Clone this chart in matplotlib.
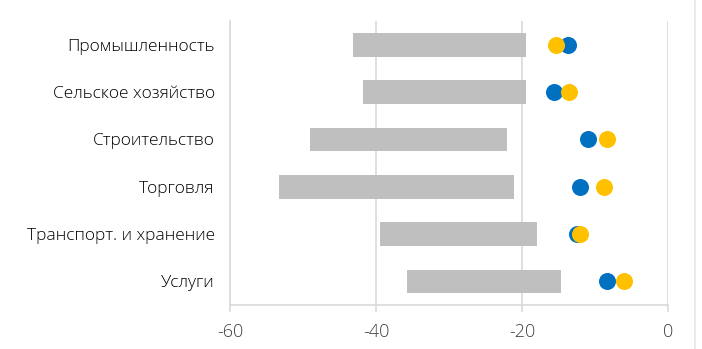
import matplotlib
matplotlib.use("Agg")
import matplotlib.pyplot as plt
from matplotlib.lines import Line2D

categories = ["Промышленность", "Сельское хозяйство", "Строительство",
              "Торговля", "Транспорт. и хранение", "Услуги"]
range_low = [-43.2, -41.8, -49.0, -53.3, -39.4, -35.8]
range_high = [-19.5, -19.5, -22.0, -21.1, -17.9, -14.7]
blue_vals = [-13.7, -15.6, -11.0, -12.0, -12.5, -8.3]
yellow_vals = [-15.4, -13.5, -8.4, -8.8, -12.1, -6.0]
x_ticks = [-60, -40, -20, 0]

GRAY = "#BFBFBF"
GRID = "#D9D9D9"
BLUE = "#0070C0"
YELLOW = "#FFC000"

plt.rcParams["font.family"] = ["Open Sans", "DejaVu Sans"]
plt.rcParams["font.weight"] = 300

fig = plt.figure(figsize=(7.02, 3.49), dpi=100)
ax = fig.add_axes([230 / 702, 1 - 305 / 349, (668 - 230) / 702, (305 - 21) / 349])

ypos = list(range(len(categories)))
widths = [h - l for l, h in zip(range_low, range_high)]
ax.barh(ypos, widths, left=range_low, height=0.5, color=GRAY, zorder=2)
ax.scatter(blue_vals, ypos, s=150, color=BLUE, zorder=3, linewidths=0)
ax.scatter(yellow_vals, ypos, s=150, color=YELLOW, zorder=4, linewidths=0)

ax.set_xlim(-60, 0)
ax.set_ylim(len(categories) - 0.5, -0.5)
ax.set_xticks(x_ticks)
ax.set_xticklabels([str(t) for t in x_ticks])
ax.set_yticks(ypos)
ax.set_yticklabels(categories)

ax.grid(axis="x", color=GRID, linewidth=1.2, zorder=0)
for side in ["top", "right"]:
    ax.spines[side].set_visible(False)
for side in ["left", "bottom"]:
    ax.spines[side].set_color(GRID)
    ax.spines[side].set_linewidth(1.2)

ax.tick_params(axis="y", length=0, pad=11, labelsize=12.5, colors="#000000")
ax.tick_params(axis="x", length=5, width=1.2, color=GRID, pad=8,
               labelsize=13, labelcolor="#404040")

# thin frame line on the right edge
fig.add_artist(Line2D([695 / 702, 695 / 702], [0, 1], color="#E6E6E6",
                      linewidth=1.2, transform=fig.transFigure))

fig.savefig("out.png", dpi=100)
